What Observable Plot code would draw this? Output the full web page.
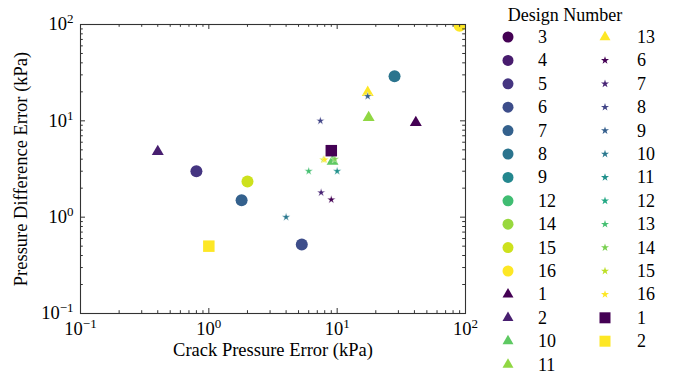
<!DOCTYPE html>
<html><head><meta charset="utf-8">
<script src="https://cdn.jsdelivr.net/npm/d3@7"></script>
<script src="https://cdn.jsdelivr.net/npm/@observablehq/plot@0.6"></script>
<style>
body{margin:0;background:#fff;}
#wrap{position:relative;width:676px;height:374px;font-family:"Liberation Serif",serif;}
#chart{position:absolute;left:0;top:0;}
#legend{position:absolute;left:490px;top:0;}
</style></head><body>
<div id="wrap"><div id="chart"></div><svg id="legend" width="186" height="374"></svg></div>
<script>
// ---- data ----
const circleLegend = [3, 4, 5, 6, 7, 8, 9, 12, 14, 15, 16];
const triangleLegend = [1, 2, 10, 11, 13];
const starLegend = [6, 7, 8, 9, 10, 11, 12, 13, 14, 15, 16];
const squareLegend = [1, 2];

const circleDesign = [5, 6, 7, 8, 15, 16];
const circleCrack = [0.8, 5.3, 1.8, 28, 2.0, 90];
const circlePressure = [3.0, 0.52, 1.5, 29, 2.35, 97];

const triangleDesign = [1, 2, 10, 11, 13];
const triangleCrack = [41, 0.4, 9.2, 17.6, 17.3];
const trianglePressure = [9.6, 4.8, 3.8, 10.8, 19.7];

const starDesign = [6, 7, 8, 9, 10, 11, 13, 14, 15, 16];
const starCrack = [9.0, 7.5, 7.4, 17.3, 4.0, 10.0, 6.0, 9.6, 7.8, 8.0];
const starPressure = [1.52, 1.8, 10, 18, 1.0, 3.0, 3.0, 4.0, 3.95, 3.95];

const squareDesign = [1, 2];
const squareCrack = [9.0, 1.0];
const squarePressure = [4.9, 0.5];

const majorTicks = [0.1, 1, 10, 100];
const minorTicks = [0.2, 0.3, 0.4, 0.5, 0.6, 0.7, 0.8, 0.9, 2, 3, 4, 5, 6, 7, 8, 9, 20, 30, 40, 50, 60, 70, 80, 90];
const xLabel = "Crack Pressure Error (kPa)";
const yLabel = "Pressure Difference Error (kPa)";
const legendTitle = "Design Number";

// ---- helpers ----
const colorFor = (list) => (d) => d3.interpolateViridis((d - d3.min(list)) / (d3.max(list) - d3.min(list)));
const cCircle = colorFor(circleLegend), cTri = colorFor(triangleLegend), cStar = colorFor(starLegend), cSq = colorFor(squareLegend);
const rows = (design, xs, ys, col) => design.map((d, i) => ({design: d, x: xs[i], y: ys[i], color: col(d)}));
const circles = rows(circleDesign, circleCrack, circlePressure, cCircle);
const triangles = rows(triangleDesign, triangleCrack, trianglePressure, cTri);
const stars = rows(starDesign, starCrack, starPressure, cStar);
const squares = rows(squareDesign, squareCrack, squarePressure, cSq);

const ink = "#333";
const FS = 18.5;
const M = {top: 24, right: 25, bottom: 61, left: 80};
const W = 490, H = 374;
const fw = W - M.left - M.right, fh = H - M.top - M.bottom;
const maj = 5, mnr = 2.8;
const expFmt = d => "10^" + Math.round(Math.log10(d));

const sizeR = {circle: 6, triangle: Math.sqrt(62 / Math.PI), star: Math.sqrt(21.7 / Math.PI), square: Math.sqrt(132 / Math.PI)};

const plot = Plot.plot({
  width: W, height: H,
  marginTop: M.top, marginRight: M.right, marginBottom: M.bottom, marginLeft: M.left,
  style: {fontFamily: "Liberation Serif, serif", fontSize: FS + "px", color: "#000", background: "#fff"},
  x: {type: "log", domain: [0.1, 100]},
  y: {type: "log", domain: [0.1, 100]},
  marks: [
    Plot.dot(circles, {x: "x", y: "y", fill: d => d.color, r: sizeR.circle, symbol: "circle", clip: true}),
    Plot.dot(triangles, {x: "x", y: "y", fill: d => d.color, r: sizeR.triangle, symbol: "triangle", clip: true}),
    Plot.dot(stars, {x: "x", y: "y", fill: d => d.color, r: sizeR.star, symbol: "star", stroke: "#fff", strokeWidth: 0.4, clip: true}),
    Plot.dot(squares, {x: "x", y: "y", fill: d => d.color, r: sizeR.square, symbol: "square", clip: true}),
    // inward ticks, all four sides
    Plot.tickX(majorTicks, {x: d => d, insetTop: fh - maj, stroke: ink}),
    Plot.tickX(majorTicks, {x: d => d, insetBottom: fh - maj, stroke: ink}),
    Plot.tickX(minorTicks, {x: d => d, insetTop: fh - mnr, stroke: ink}),
    Plot.tickX(minorTicks, {x: d => d, insetBottom: fh - mnr, stroke: ink}),
    Plot.tickY(majorTicks, {y: d => d, insetRight: fw - maj, stroke: ink}),
    Plot.tickY(majorTicks, {y: d => d, insetLeft: fw - maj, stroke: ink}),
    Plot.tickY(minorTicks, {y: d => d, insetRight: fw - mnr, stroke: ink}),
    Plot.tickY(minorTicks, {y: d => d, insetLeft: fw - mnr, stroke: ink}),
    Plot.frame({stroke: ink, strokeWidth: 1.1}),
    Plot.axisX({ticks: majorTicks, tickSize: 0, tickPadding: 8, tickFormat: expFmt, label: null, fontSize: FS}),
    Plot.axisY({ticks: majorTicks, tickSize: 0, tickPadding: 7, tickFormat: expFmt, label: null, fontSize: FS}),
    Plot.text([xLabel], {text: d => d, frameAnchor: "bottom", textAnchor: "middle", dy: 42, fontSize: FS, fill: "#000"}),
    Plot.text([yLabel], {text: d => d, frameAnchor: "left", textAnchor: "middle", dx: -59, rotate: -90, fontSize: FS, fill: "#000"})
  ]
});
document.getElementById("chart").appendChild(plot);

// superscript exponents in tick labels
const NS = "http://www.w3.org/2000/svg";
plot.querySelectorAll("text").forEach(t => {
  const m = t.textContent.match(/^10\^(-?\d+)$/);
  if (m) {
    t.textContent = "10";
    const ts = document.createElementNS(NS, "tspan");
    ts.setAttribute("dy", "-7");
    ts.setAttribute("font-size", "13px");
    ts.textContent = m[1].replace("-", "\u2212");
    t.appendChild(ts);
  }
});

// ---- legend ----
const lg = d3.select("#legend").style("font-family", "Liberation Serif, serif");
lg.append("text").attr("x", 75).attr("y", 15).attr("text-anchor", "middle").attr("dominant-baseline", "central")
  .attr("font-size", "18px").text(legendTitle);
const entries = [
  ...circleLegend.map(d => ({d, type: d3.symbolCircle, size: Math.PI * 5.5 * 5.5, color: cCircle(d)})),
  ...triangleLegend.map(d => ({d, type: d3.symbolTriangle, size: 52, color: cTri(d)})),
  ...starLegend.map(d => ({d, type: d3.symbolStar, size: 20, color: cStar(d)})),
  ...squareLegend.map(d => ({d, type: d3.symbolSquare, size: 121, color: cSq(d)}))
];
const perCol = Math.ceil(entries.length / 2);
entries.forEach((e, i) => {
  const col = i < perCol ? 0 : 1, row = i % perCol;
  const y = 37 + row * 23.4;
  const mx = col ? 115 : 18, tx = col ? 147 : 48;
  lg.append("path").attr("d", d3.symbol(e.type, e.size)()).attr("transform", `translate(${mx},${y})`).attr("fill", e.color);
  lg.append("text").attr("x", tx).attr("y", y).attr("dominant-baseline", "central").attr("font-size", "18px").text(e.d);
});
</script>
</body></html>
